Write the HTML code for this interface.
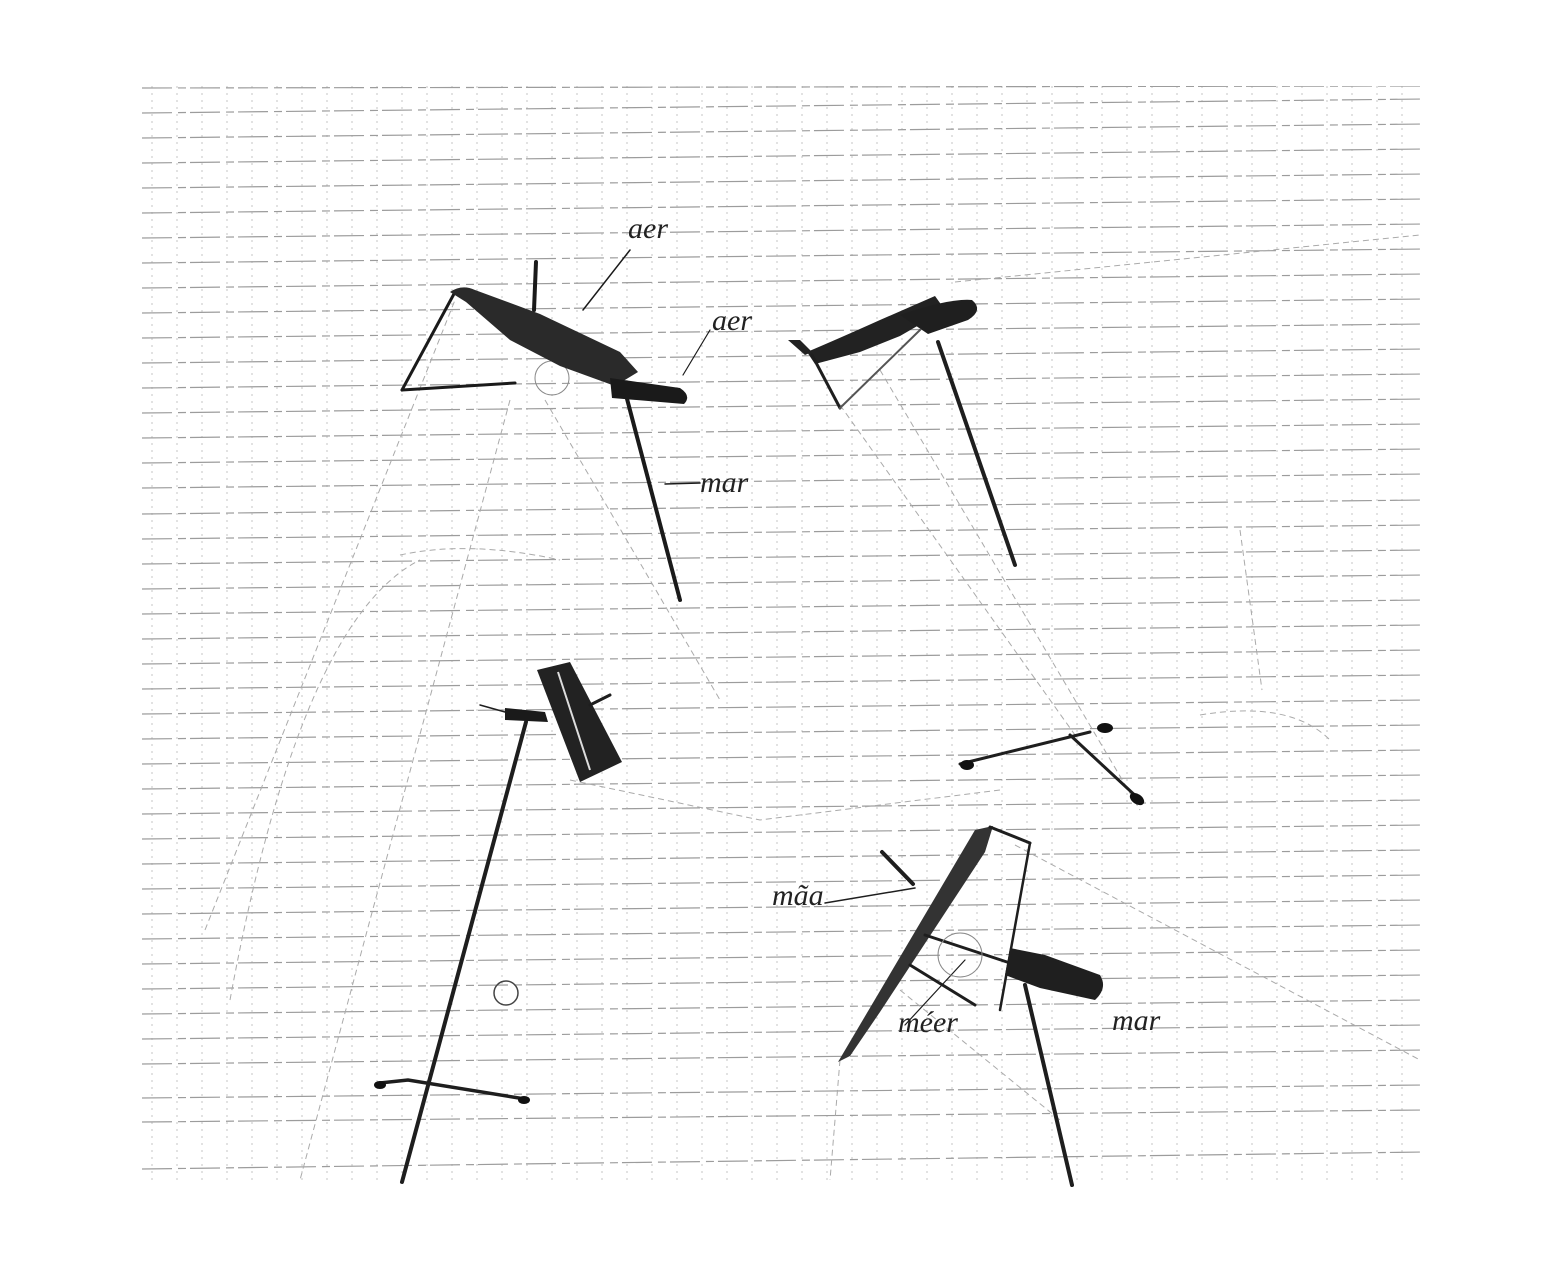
<!DOCTYPE html>
<html><head><meta charset="utf-8"><style>
html,body{margin:0;padding:0;background:#fff;}
svg{display:block;}
.h{font-family:"Liberation Serif",serif;font-style:italic;fill:#222;}
</style></head><body>
<svg width="1565" height="1280" viewBox="0 0 1565 1280" xmlns="http://www.w3.org/2000/svg">
<rect width="1565" height="1280" fill="#fff"/>
<defs>
<clipPath id="paper"><rect x="142" y="86" width="1282" height="1098"/></clipPath>
</defs>
<g clip-path="url(#paper)" stroke="#c4c4c4" stroke-width="1" stroke-dasharray="2 5">
<line x1="152" y1="86" x2="152" y2="1184"/><line x1="177" y1="86" x2="177" y2="1184"/><line x1="202" y1="86" x2="202" y2="1184"/><line x1="227" y1="86" x2="227" y2="1184"/><line x1="252" y1="86" x2="252" y2="1184"/><line x1="277" y1="86" x2="277" y2="1184"/><line x1="302" y1="86" x2="302" y2="1184"/><line x1="327" y1="86" x2="327" y2="1184"/><line x1="352" y1="86" x2="352" y2="1184"/><line x1="377" y1="86" x2="377" y2="1184"/><line x1="402" y1="86" x2="402" y2="1184"/><line x1="427" y1="86" x2="427" y2="1184"/><line x1="452" y1="86" x2="452" y2="1184"/><line x1="477" y1="86" x2="477" y2="1184"/><line x1="502" y1="86" x2="502" y2="1184"/><line x1="527" y1="86" x2="527" y2="1184"/><line x1="552" y1="86" x2="552" y2="1184"/><line x1="577" y1="86" x2="577" y2="1184"/><line x1="602" y1="86" x2="602" y2="1184"/><line x1="627" y1="86" x2="627" y2="1184"/><line x1="652" y1="86" x2="652" y2="1184"/><line x1="677" y1="86" x2="677" y2="1184"/><line x1="702" y1="86" x2="702" y2="1184"/><line x1="727" y1="86" x2="727" y2="1184"/><line x1="752" y1="86" x2="752" y2="1184"/><line x1="777" y1="86" x2="777" y2="1184"/><line x1="802" y1="86" x2="802" y2="1184"/><line x1="827" y1="86" x2="827" y2="1184"/><line x1="852" y1="86" x2="852" y2="1184"/><line x1="877" y1="86" x2="877" y2="1184"/><line x1="902" y1="86" x2="902" y2="1184"/><line x1="927" y1="86" x2="927" y2="1184"/><line x1="952" y1="86" x2="952" y2="1184"/><line x1="977" y1="86" x2="977" y2="1184"/><line x1="1002" y1="86" x2="1002" y2="1184"/><line x1="1027" y1="86" x2="1027" y2="1184"/><line x1="1052" y1="86" x2="1052" y2="1184"/><line x1="1077" y1="86" x2="1077" y2="1184"/><line x1="1102" y1="86" x2="1102" y2="1184"/><line x1="1127" y1="86" x2="1127" y2="1184"/><line x1="1152" y1="86" x2="1152" y2="1184"/><line x1="1177" y1="86" x2="1177" y2="1184"/><line x1="1202" y1="86" x2="1202" y2="1184"/><line x1="1227" y1="86" x2="1227" y2="1184"/><line x1="1252" y1="86" x2="1252" y2="1184"/><line x1="1277" y1="86" x2="1277" y2="1184"/><line x1="1302" y1="86" x2="1302" y2="1184"/><line x1="1327" y1="86" x2="1327" y2="1184"/><line x1="1352" y1="86" x2="1352" y2="1184"/><line x1="1377" y1="86" x2="1377" y2="1184"/><line x1="1402" y1="86" x2="1402" y2="1184"/>
</g>
<g clip-path="url(#paper)" stroke="#9c9c9c" stroke-width="1.2" stroke-dasharray="30 6 8 4">
<line x1="142" y1="88" x2="1424" y2="86"/>
<line x1="142" y1="113" x2="1424" y2="99"/><line x1="142" y1="138" x2="1424" y2="124"/><line x1="142" y1="163" x2="1424" y2="149"/><line x1="142" y1="188" x2="1424" y2="174"/><line x1="142" y1="213" x2="1424" y2="199"/><line x1="142" y1="238" x2="1424" y2="224"/><line x1="142" y1="263" x2="1424" y2="249"/><line x1="142" y1="288" x2="1424" y2="274"/><line x1="142" y1="313" x2="1424" y2="299"/><line x1="142" y1="338" x2="1424" y2="324"/><line x1="142" y1="363" x2="1424" y2="349"/><line x1="142" y1="388" x2="1424" y2="374"/><line x1="142" y1="413" x2="1424" y2="399"/><line x1="142" y1="438" x2="1424" y2="424"/><line x1="142" y1="463" x2="1424" y2="449"/><line x1="142" y1="488" x2="1424" y2="474"/><line x1="142" y1="514" x2="1424" y2="500"/><line x1="142" y1="539" x2="1424" y2="525"/><line x1="142" y1="564" x2="1424" y2="550"/><line x1="142" y1="589" x2="1424" y2="575"/><line x1="142" y1="614" x2="1424" y2="600"/><line x1="142" y1="639" x2="1424" y2="625"/><line x1="142" y1="664" x2="1424" y2="650"/><line x1="142" y1="689" x2="1424" y2="675"/><line x1="142" y1="714" x2="1424" y2="700"/><line x1="142" y1="739" x2="1424" y2="725"/><line x1="142" y1="764" x2="1424" y2="750"/><line x1="142" y1="789" x2="1424" y2="775"/><line x1="142" y1="814" x2="1424" y2="800"/><line x1="142" y1="839" x2="1424" y2="825"/><line x1="142" y1="864" x2="1424" y2="850"/><line x1="142" y1="889" x2="1424" y2="875"/><line x1="142" y1="914" x2="1424" y2="900"/><line x1="142" y1="939" x2="1424" y2="925"/><line x1="142" y1="964" x2="1424" y2="950"/><line x1="142" y1="989" x2="1424" y2="975"/><line x1="142" y1="1014" x2="1424" y2="1000"/><line x1="142" y1="1039" x2="1424" y2="1025"/><line x1="142" y1="1064" x2="1424" y2="1050"/><line x1="142" y1="1098" x2="1424" y2="1085"/><line x1="142" y1="1122" x2="1424" y2="1110"/><line x1="142" y1="1169" x2="1424" y2="1152"/>
</g>

<!-- faint construction lines -->
<g stroke="#aaa" stroke-width="1" fill="none" stroke-dasharray="6 4">
<path d="M205,930 L455,300"/>
<path d="M230,1000 Q300,620 420,560"/>
<path d="M510,400 L300,1180"/>
<path d="M545,400 L720,700"/>
<path d="M955,282 L1420,235"/>
<path d="M840,405 L1075,735"/>
<path d="M880,370 L1140,810"/>
<path d="M570,780 L760,820 L1000,790"/>
<path d="M400,555 Q470,540 560,560"/>
<path d="M1015,845 L1420,1060"/>
<path d="M900,990 L1060,1120"/>
<path d="M1200,715 Q1290,700 1330,740"/>
<path d="M1240,530 L1262,690"/>
<path d="M840,1060 L830,1180"/>
</g>

<!-- Lamp 1 -->
<g stroke="#1a1a1a" fill="none" stroke-linecap="round">
<path d="M455,292 L402,390" stroke-width="3"/>
<path d="M402,390 L515,383" stroke-width="3"/>
<path d="M536,262 L534,310" stroke-width="4"/>
<path d="M626,395 L680,600" stroke-width="4"/>
<path d="M583,310 L630,250" stroke-width="1.5"/>
<path d="M683,375 L710,330" stroke-width="1.2"/>
<path d="M665,484 L700,483" stroke-width="1.5"/>
<circle cx="552" cy="378" r="17" stroke="#888" stroke-width="1"/>
</g>
<path d="M450,292 Q462,284 475,290 L540,314 L620,352 L638,372 L615,386 L560,366 L510,340 L466,302 Z" fill="#2a2a2a"/>
<path d="M610,378 L680,388 Q692,396 684,404 L612,398 Z" fill="#1a1a1a"/>
<text class="h" x="628" y="238" font-size="30">aer</text>
<text class="h" x="712" y="330" font-size="30">aer</text>
<text class="h" x="700" y="492" font-size="30">mar</text>

<!-- Lamp 2 -->
<path d="M807,352 Q840,338 880,320 L935,296 L945,310 L900,336 L860,352 L815,364 Z" fill="#222"/>
<path d="M900,315 Q950,298 972,300 Q984,310 968,320 L928,334 Z" fill="#1f1f1f"/>
<path d="M788,340 L800,340 L812,352 L805,355 Z" fill="#222"/>
<g stroke="#1e1e1e" fill="none" stroke-linecap="round">
<path d="M938,342 L1015,565" stroke-width="4"/>
<path d="M812,355 L840,408" stroke-width="3"/>
<path d="M840,408 L920,330" stroke-width="2" stroke="#555"/>
<path d="M960,764 L1090,732" stroke-width="3"/>
<path d="M1070,735 L1140,800" stroke-width="3"/>
</g>
<ellipse cx="967" cy="765" rx="7" ry="5" fill="#111"/>
<ellipse cx="1105" cy="728" rx="8" ry="5" fill="#111"/>
<ellipse cx="1137" cy="799" rx="8" ry="5" fill="#111" transform="rotate(35 1137 799)"/>

<!-- Lamp 3 -->
<path d="M537,670 L570,662 L622,762 L580,782 Z" fill="#222"/>
<path d="M558,672 L590,770" stroke="#ddd" stroke-width="2"/>
<path d="M505,708 L545,712 L548,722 L505,720 Z" fill="#1a1a1a"/>
<g stroke="#1e1e1e" fill="none" stroke-linecap="round">
<path d="M480,705 L505,712" stroke-width="1.5"/>
<path d="M526,722 L402,1182" stroke-width="4"/>
<path d="M380,1083 L408,1080 L525,1099" stroke-width="3.5"/>
<path d="M590,705 L610,695" stroke-width="3"/>
</g>
<ellipse cx="380" cy="1085" rx="6" ry="4" fill="#111"/>
<ellipse cx="524" cy="1100" rx="6" ry="4" fill="#111"/>
<circle cx="506" cy="993" r="12" fill="none" stroke="#444" stroke-width="1.5"/>

<!-- Lamp 4 -->
<path d="M838,1062 L975,830 L993,826 L985,852 L880,1012 L850,1056 Z" fill="#333"/>
<g stroke="#1e1e1e" fill="none" stroke-linecap="round">
<path d="M990,827 L1030,843" stroke-width="3"/>
<path d="M1030,843 L1000,1010" stroke-width="2.5"/>
<path d="M925,935 L1010,963" stroke-width="3"/>
<path d="M910,965 L975,1005" stroke-width="3"/>
<path d="M1025,985 L1072,1185" stroke-width="4"/>
<path d="M882,852 L913,884" stroke-width="4"/>
<path d="M825,903 L915,888" stroke-width="1.5"/>
<path d="M905,1025 L965,960" stroke-width="1.2"/>
<circle cx="960" cy="955" r="22" stroke="#888" stroke-width="1"/>
</g>
<path d="M1010,948 L1045,955 L1100,975 Q1108,988 1095,1000 L1040,988 L1005,975 Z" fill="#1f1f1f"/>
<text class="h" x="772" y="905" font-size="30">mãa</text>
<text class="h" x="898" y="1032" font-size="30">méer</text>
<text class="h" x="1112" y="1030" font-size="30">mar</text>
</svg>
</body></html>
